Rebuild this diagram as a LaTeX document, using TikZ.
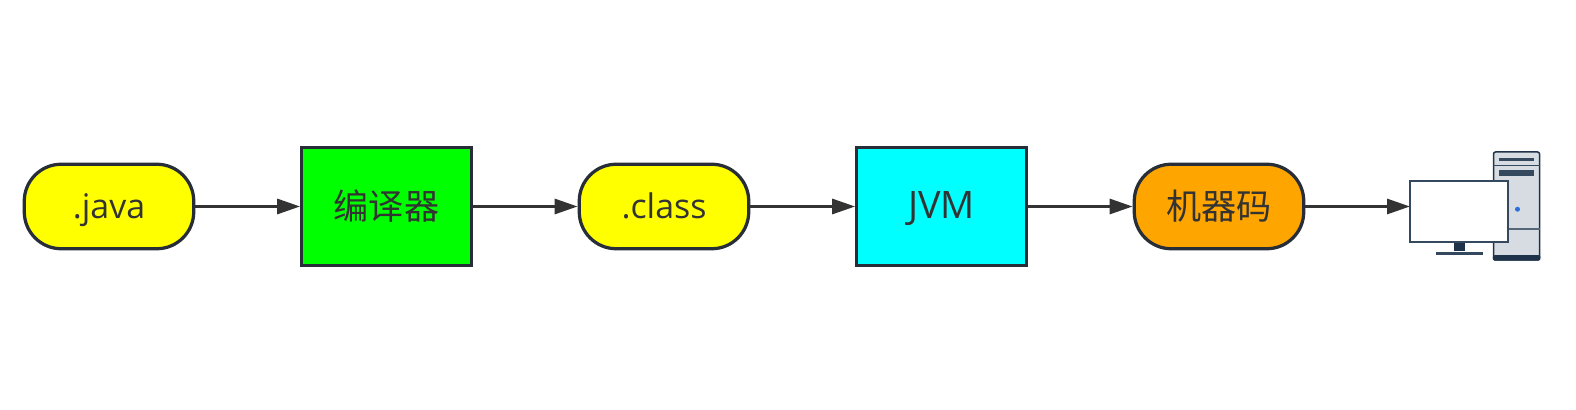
\documentclass[tikz,border=0pt]{standalone}
\usepackage{fontspec}
\setmainfont{Noto Sans CJK SC}
\newfontfamily\latinfont{Open Sans}
\definecolor{InkGrey}{RGB}{51, 51, 51}
\definecolor{EdgeDark}{RGB}{40, 46, 56}
\definecolor{FileYellow}{RGB}{255, 255, 0}
\definecolor{ToolGreen}{RGB}{0, 255, 0}
\definecolor{ToolCyan}{RGB}{0, 255, 255}
\definecolor{CodeOrange}{RGB}{255, 165, 0}
\definecolor{PcDark}{RGB}{30, 51, 73}
\definecolor{PcLine}{RGB}{52, 73, 94}
\definecolor{PcBody}{RGB}{214, 220, 225}
\definecolor{PcLed}{RGB}{42, 111, 219}
\usetikzlibrary{arrows.meta, positioning}
\tikzset{
  base/.style={
    draw=EdgeDark, line width=0.065cm, outer sep=0.0325cm, inner sep=0pt,
    text=InkGrey, font=\fontsize{20}{24}\selectfont
  },
  file/.style={base, fill=#1, rounded corners=0.74cm, minimum width=3.39cm, minimum height=1.69cm},
  tool/.style={base, fill=#1, minimum width=3.39cm, minimum height=2.36cm},
  latin/.style={font=\fontsize{#1}{24}\latinfont, text height=0.62cm, text depth=0.13cm},
  flow/.style={draw=InkGrey, line width=0.06cm, -{Stealth[length=0.46cm, width=0.3cm, inset=0pt]}},
}
\begin{document}
\begin{tikzpicture}
\useasboundingbox (0,0) rectangle (31.52,8.2);

\node[file=FileYellow, latin=19.3] (java) at (2.18,4.07) {.java};
\node[tool=ToolGreen, right=2.095cm of java] (compiler) {编译器};
\node[file=FileYellow, latin=19.3, right=2.095cm of compiler] (class) {.class};
\node[tool=ToolCyan, latin=21.5, right=2.095cm of class] (jvm) {JVM};
\node[file=CodeOrange, right=2.095cm of jvm] (code) {机器码};

% Computer
\node[draw=PcDark, fill=PcBody, line width=0.03cm, rounded corners=0.04cm, minimum width=0.92cm, minimum height=2.16cm, inner sep=0pt] (tower) at (30.33,4.08) {};
\fill[PcDark, rounded corners=0.03cm] ([yshift=0.11cm]tower.south west) rectangle (tower.south east);
\draw[PcLine, line width=0.03cm] ([yshift=-0.29cm]tower.north west) -- ([yshift=-0.29cm]tower.north east);
\draw[PcLine!80!PcBody, line width=0.03cm] ([yshift=0.63cm]tower.south west) -- ([yshift=0.63cm]tower.south east);
\fill[PcLine] ([xshift=0.12cm,yshift=-0.13cm]tower.north west) rectangle ([xshift=-0.12cm,yshift=-0.19cm]tower.north east);
\fill[PcLine] ([xshift=0.12cm,yshift=-0.37cm]tower.north west) rectangle ([xshift=-0.12cm,yshift=-0.49cm]tower.north east);
\fill[PcLed] ([xshift=0.02cm,yshift=-1.16cm]tower.north) circle (0.05cm);

\node[draw=PcLine, fill=white, line width=0.04cm, minimum width=1.96cm, minimum height=1.23cm, inner sep=0pt, outer sep=0pt] (screen) at (29.18,3.97) {};
\node[fill=PcDark, minimum width=0.22cm, minimum height=0.17cm, inner sep=0pt, below=0pt of screen] (stand) {};
\node[fill=PcLine, minimum width=0.94cm, minimum height=0.06cm, inner sep=0pt, below=0pt of stand] (foot) {};

\draw[flow] (java) -- (compiler);
\draw[flow] (compiler) -- (class);
\draw[flow] (class) -- (jvm);
\draw[flow] (jvm) -- (code);
\draw[flow] (code.east) -- (code.east -| screen.west);
\end{tikzpicture}
\end{document}
